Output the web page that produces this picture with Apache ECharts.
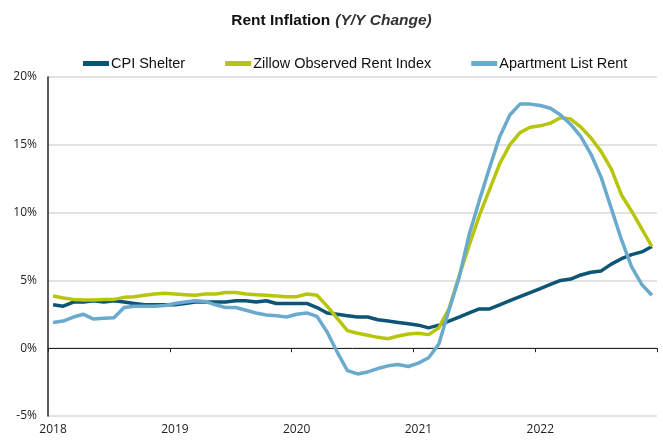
<!DOCTYPE html>
<html>
<head lang="en">
    <meta charset="UTF-8">
    <title>Rent Inflation</title>
</head>
<body style="margin:0;">
<div id="mychart" style="width: 663px;height: 441px;"></div>
<script src="https://cdn.jsdelivr.net/npm/echarts@6/dist/echarts.min.js"></script>
<script>
var myChart = echarts.init(document.getElementById('mychart'));

// months Jan 2018 .. Dec 2022
var months = [];
for (var y = 2018; y <= 2022; y++) {
    for (var m = 1; m <= 12; m++) {
        months.push(y + '-' + (m < 10 ? '0' + m : m));
    }
}
var seriesNames = ['CPI Shelter', 'Zillow Observed Rent Index', 'Apartment List Rent'];
var yTicks = [-5, 0, 5, 10, 15, 20];

// Y/Y % change
var cpiShelter = [
    3.2, 3.1, 3.4, 3.4, 3.5, 3.4, 3.5, 3.4, 3.3, 3.2, 3.2, 3.2,
    3.2, 3.3, 3.4, 3.4, 3.4, 3.4, 3.5, 3.5, 3.4, 3.5, 3.3, 3.3,
    3.3, 3.3, 3.0, 2.6, 2.5, 2.4, 2.3, 2.3, 2.1, 2.0, 1.9, 1.8,
    1.7, 1.5, 1.7, 2.0, 2.3, 2.6, 2.9, 2.9, 3.2, 3.5, 3.8, 4.1,
    4.4, 4.7, 5.0, 5.1, 5.4, 5.6, 5.7, 6.2, 6.6, 6.9, 7.1, 7.5
];
var zillow = [
    3.85, 3.7, 3.6, 3.55, 3.55, 3.6, 3.6, 3.75, 3.8, 3.9, 4.0, 4.05,
    4.0, 3.95, 3.9, 4.0, 4.0, 4.1, 4.1, 4.0, 3.95, 3.9, 3.85, 3.8,
    3.8, 4.0, 3.9, 3.1, 2.2, 1.3, 1.1, 0.95, 0.8, 0.7, 0.9, 1.05,
    1.1, 1.0, 1.5, 2.9, 5.3, 7.6, 9.8, 11.7, 13.6, 15.0, 15.9, 16.3,
    16.4, 16.6, 17.0, 16.9, 16.3, 15.5, 14.5, 13.2, 11.3, 10.1, 8.8, 7.5
];
var aptList = [
    1.9, 2.0, 2.3, 2.5, 2.15, 2.2, 2.25, 3.0, 3.1, 3.1, 3.1, 3.15,
    3.3, 3.4, 3.5, 3.45, 3.2, 3.0, 3.0, 2.8, 2.6, 2.45, 2.4, 2.3,
    2.5, 2.6, 2.35, 1.2, -0.3, -1.65, -1.9, -1.75, -1.5, -1.3, -1.2, -1.35,
    -1.1, -0.7, 0.3, 2.8, 5.2, 8.4, 10.9, 13.3, 15.6, 17.2, 18.0, 18.0,
    17.9, 17.7, 17.2, 16.5, 15.6, 14.3, 12.6, 10.3, 8.0, 6.0, 4.7, 3.9
];

var colors = ['#0d5576', '#b8c50d', '#6aabcd'];

function lineSeries(name, data, color) {
    return {
        name: name,
        type: 'line',
        data: data,
        symbol: 'none',
        xAxisIndex: 0,
        lineStyle: {width: 3.5, color: color},
        itemStyle: {color: color}
    };
}

var option = {
    animation: false,
    title: {
        text: '{b|Rent Inflation} {i|(Y/Y Change)}',
        left: 'center',
        top: 7,
        textStyle: {
            rich: {
                b: {fontFamily: 'Liberation Sans', fontSize: 15.5, fontWeight: 'bold', color: '#111'},
                i: {fontFamily: 'Liberation Sans', fontSize: 15.5, fontStyle: 'italic', color: '#333'}
            }
        }
    },
    legend: {
        left: 78,
        top: 51,
        itemWidth: 26,
        itemHeight: 5,
        itemGap: 40,
        icon: 'rect',
        data: seriesNames,
        textStyle: {fontFamily: 'Liberation Sans', fontSize: 14.5, color: '#111', padding: [0, 0, 0, -3]}
    },
    grid: {left: 48, right: 6, top: 77, bottom: 25},
    xAxis: [
        {
            // axis line at 0% with year ticks
            type: 'category',
            data: months,
            boundaryGap: true,
            axisLine: {onZero: true, lineStyle: {color: '#222', width: 1}},
            axisTick: {show: true, interval: 11, length: 4, lineStyle: {color: '#222'}},
            axisLabel: {show: false}
        },
        {
            // year labels at the bottom
            type: 'category',
            data: months,
            position: 'bottom',
            boundaryGap: true,
            axisLine: {show: false, onZero: false},
            axisTick: {show: false},
            axisLabel: {
                interval: 11,
                margin: 8,
                fontFamily: 'Open Sans',
                fontSize: 12,
                color: '#222',
                formatter: function (v) { return v.slice(0, 4); }
            }
        }
    ],
    yAxis: {
        type: 'value',
        min: yTicks[0],
        max: yTicks[yTicks.length - 1],
        interval: 5,
        axisLine: {show: true, lineStyle: {color: '#222', width: 1.5}},
        axisTick: {show: false},
        axisLabel: {
            margin: 11,
            fontFamily: 'Open Sans',
            fontSize: 12,
            color: '#222',
            formatter: '{value}%'
        },
        splitLine: {lineStyle: {color: '#e2e2e2', width: 2}}
    },
    series: [
        lineSeries(seriesNames[0], cpiShelter, colors[0]),
        lineSeries(seriesNames[1], zillow, colors[1]),
        lineSeries(seriesNames[2], aptList, colors[2])
    ]
};
myChart.setOption(option);
</script>
</body>
</html>
